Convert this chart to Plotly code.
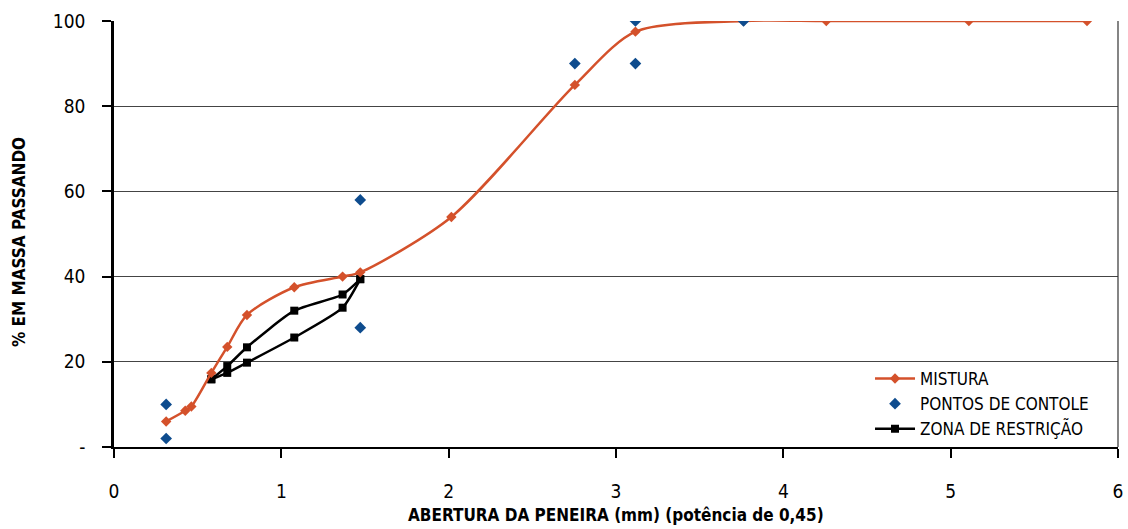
import plotly.graph_objects as go

# Sieve openings (mm) and percent passing of the blend
mix_sieve_mm = [0.075, 0.15, 0.18, 0.3, 0.42, 0.6, 1.18, 2.0, 2.36, 4.75, 9.5, 12.5, 19.0, 25.0, 37.5, 50.0]
mix_passing = [6.0, 8.5, 9.5, 17.4, 23.5, 31.0, 37.5, 40.0, 41.0, 54.0, 85.0, 97.5, 100.0, 100.0, 100.0, 100.0]

# Superpave control points
ctrl_sieve_mm = [0.075, 0.075, 2.36, 2.36, 9.5, 12.5, 12.5, 19.0]
ctrl_passing = [2.0, 10.0, 28.0, 58.0, 90.0, 90.0, 100.0, 100.0]

# Restricted zone boundaries
zone_sieve_mm = [0.3, 0.42, 0.6, 1.18, 2.0, 2.36]
zone_lower = [15.9, 17.4, 19.8, 25.7, 32.7, 39.4]
zone_upper = [15.9, 19.0, 23.4, 32.0, 35.8, 39.4]

x_ticks = [0, 1, 2, 3, 4, 5, 6]
y_ticks = [0, 20, 40, 60, 80, 100]
y_tick_text = ["-", "20", "40", "60", "80", "100"]

POW = 0.45


def scale(sizes):
    return [s ** POW for s in sizes]


FONT = "DejaVu Sans Condensed, Liberation Sans Narrow, Liberation Sans, Arial, sans-serif"
RED = "#D4512B"
BLUE = "#0E4C8E"

zx = scale(zone_sieve_mm)
zone_x = zx + [None] + zx
zone_y = zone_lower + [None] + zone_upper

fig = go.Figure()

fig.add_trace(go.Scatter(
    x=zone_x, y=zone_y, mode="lines+markers", name="ZONA DE RESTRIÇÃO",
    line=dict(color="black", width=2.5, shape="spline", smoothing=0.6),
    marker=dict(symbol="square", size=8, color="black"),
    connectgaps=False, legendrank=3,
))

fig.add_trace(go.Scatter(
    x=scale(mix_sieve_mm), y=mix_passing, mode="lines+markers", name="MISTURA",
    line=dict(color=RED, width=2.5, shape="spline", smoothing=0.8),
    marker=dict(symbol="diamond", size=8, color=RED),
    legendrank=1,
))

fig.add_trace(go.Scatter(
    x=scale(ctrl_sieve_mm), y=ctrl_passing, mode="markers", name="PONTOS DE CONTOLE",
    marker=dict(symbol="diamond", size=9, color=BLUE),
    legendrank=2,
))

fig.update_layout(
    width=1128, height=529,
    margin=dict(l=114, r=10, t=21, b=82),
    paper_bgcolor="white", plot_bgcolor="white",
    font=dict(family=FONT, size=15, color="black"),
    showlegend=True,
    legend=dict(
        x=0.753, y=0.0, xanchor="left", yanchor="bottom",
        traceorder="normal", bgcolor="rgba(255,255,255,0)",
        font=dict(family=FONT, size=17, color="black"),
        itemwidth=40, tracegroupgap=0,
    ),
)

fig.update_xaxes(
    range=[0, 6], tickvals=x_ticks, ticktext=[str(v) for v in x_ticks],
    showgrid=False, zeroline=False,
    showline=True, linecolor="black", linewidth=2,
    ticks="outside", ticklen=9, tickwidth=1.5, tickcolor="black",
    tickfont=dict(family=FONT, size=19), ticklabelstandoff=17,
    automargin=False,
)

fig.update_yaxes(
    range=[0, 100], tickvals=y_ticks, ticktext=y_tick_text,
    showgrid=True, gridcolor="#444444", gridwidth=1, zeroline=False,
    showline=True, linecolor="black", linewidth=2.5,
    ticks="outside", ticklen=9, tickwidth=1.5, tickcolor="black",
    tickfont=dict(family=FONT, size=19), ticklabelstandoff=13,
    automargin=False,
)

# Axis titles
fig.add_annotation(
    text="<b>ABERTURA DA PENEIRA (mm) (potência de 0,45)</b>",
    xref="paper", yref="paper", x=0.5, y=0, xanchor="center", yanchor="middle",
    yshift=-68, showarrow=False, font=dict(family=FONT, size=17, color="black"),
)
fig.add_annotation(
    text="<b>% EM MASSA PASSANDO</b>", textangle=-90,
    xref="paper", yref="paper", x=0, y=0.481, xanchor="center", yanchor="middle",
    xshift=-95, showarrow=False, font=dict(family=FONT, size=17, color="black"),
)

# Right-hand border of the plotting area
fig.add_shape(type="line", xref="paper", yref="paper", x0=1, x1=1, y0=0, y1=1,
              line=dict(color="#333333", width=1.2))

fig.write_html("out.html")
